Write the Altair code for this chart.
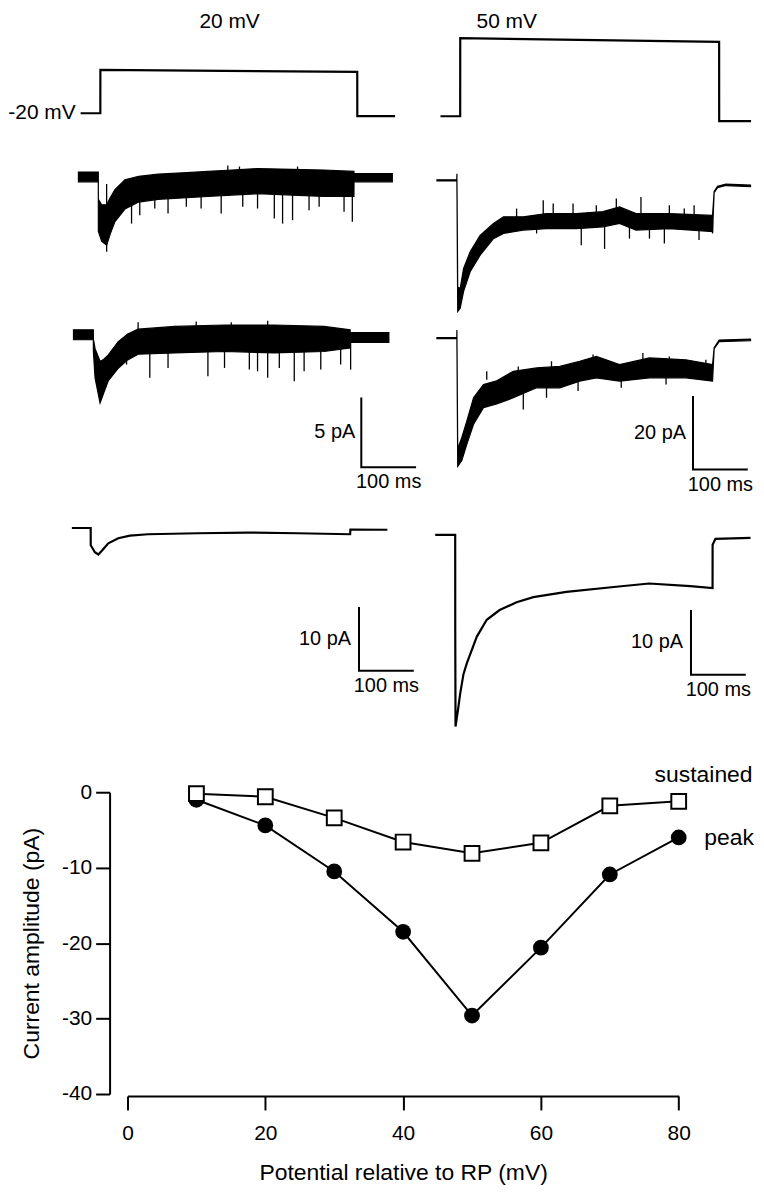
import altair as alt
import pandas as pd

FONT = "Liberation Sans"

# ---------------- command voltage steps (ms from step onset, mV) ----------------
cmd20_t = [-36, 0, 0.1, 469, 469.1, 538]
cmd20_mv = [-20, -20, 19.6, 17.8, -22.7, -22.7]
cmd50_t = [-36, 0, 0.1, 472.7, 472.8, 531]
cmd50_mv = [-20, -20, 51.2, 47.8, -24.5, -24.5]

# ---------------- 20 mV, trace 1 (pA): noise envelope + single-channel spikes ----------------
a1_t = [-40, -3.7, -3.6, 2.4, 11.5, 18, 26.7, 44.9, 70, 105.5, 150, 196, 240, 287, 350, 408.5, 463, 463.1, 533]
a1_hi = [0.35, 0.35, -1.6, -2.0, -2.0, -1.5, -0.9, -0.2, 0.05, 0.2, 0.3, 0.4, 0.5, 0.6, 0.55, 0.5, 0.4, 0.25, 0.25]
a1_lo = [-0.35, -0.35, -3.9, -4.6, -4.9, -4.1, -3.2, -2.3, -1.8, -1.6, -1.5, -1.4, -1.3, -1.2, -1.3, -1.4, -1.4, -0.35, -0.35]
a1_spk_t = [11.5, 57, 72, 99.4, 123.6, 157, 184, 220.6, 260, 287, 317.6, 332.7, 350.9, 381, 399.4, 444.9, 460, 232.7, 254, 360]
a1_spk_i = [-5.36, -3.34, -2.74, -2.26, -2.62, -2.14, -2.26, -2.62, -2.14, -2.26, -2.98, -3.34, -3.1, -2.38, -2.14, -2.5, -3.21, 0.83, 0.75, 0.75]

# ---------------- 20 mV, trace 2 (pA) ----------------
a2_t = [-49, -12.8, -12.7, -9.6, -0.5, 5, 14.5, 32.7, 50, 69, 135.8, 226.7, 317.6, 408.5, 456, 456.1, 526.7]
a2_hi = [0.36, 0.36, -0.3, -1.0, -1.9, -1.8, -1.45, -0.5, 0.05, 0.4, 0.6, 0.7, 0.7, 0.6, 0.35, 0.15, 0.15]
a2_lo = [-0.36, -0.36, -1.2, -3.1, -4.9, -4.3, -3.3, -2.4, -1.8, -1.4, -1.3, -1.2, -1.3, -1.2, -0.95, -0.55, -0.55]
a2_spk_t = [47.9, 90.3, 123.6, 196.4, 226.7, 272, 287, 305.5, 326.7, 354, 372, 402.4, 438.7, 456.9, 69, 175, 239, 305.5]
a2_spk_i = [-2.14, -3.09, -2.38, -2.97, -2.38, -2.5, -2.62, -3.09, -2.38, -3.33, -2.62, -2.5, -2.14, -2.5, 0.9, 0.95, 0.9, 1.0]

# ---------------- 20 mV, averaged trace (pA) ----------------
a3_t = [-52, -17.6, -17.5, -10, -3.6, 3.6, 14.5, 32.7, 54, 87, 178, 269, 360, 456, 456.5, 524]
a3_i = [0, 0, -2.7, -3.8, -4.16, -3.5, -2.4, -1.6, -1.19, -0.98, -0.83, -0.72, -0.83, -0.98, -0.25, -0.28]

# ---------------- 50 mV, trace 1 (pA) ----------------
b1_t = [-42.4, -6.2, -6.0, -4.5, 0, 6.2, 18.2, 36.4, 60.7, 79, 115, 157.6, 212, 260.7, 291, 321, 381.8,
        460.7, 463.6, 469.8, 485, 530]
b1_hi = [0.15, 0.15, 1.8, -29.0, -29.3, -23.9, -19.4, -14.9, -11.7, -9.9, -9.9, -9.0, -9.0, -8.5, -7.2, -9.0, -9.0,
         -9.5, -3.0, -1.6, -1.0, -1.3]
b1_lo = [-0.15, -0.15, -0.15, -35.6, -34.7, -30.1, -24.8, -20.3, -15.8, -14.4, -13.5, -13.1, -13.1, -12.6, -11.7,
         -13.5, -13.1, -13.9, -3.3, -2.0, -1.4, -1.7]
b1_spk_t = [103, 151.6, 169.8, 206, 248.5, 285, 330, 381.8, 409, 427,
            139.5, 221, 263.6, 309, 345.5, 372.7, 436, 460.7]
b1_spk_i = [-7.65, -5.4, -6.3, -6.3, -6.75, -4.95, -4.5, -6.75, -7.65, -6.75,
            -14.4, -17.6, -18.6, -15.8, -15.8, -17.1, -16.2, -14.4]

# ---------------- 50 mV, trace 2 (pA) ----------------
b2_t = [-42.4, -6.2, -6.0, -4.5, 3, 12.2, 24.4, 42.5, 66.7, 97, 139.5, 181.8, 218, 248.5, 291, 345.5, 412,
        460.7, 463.6, 472.7, 530]
b2_hi = [0.15, 0.15, 2.2, -30.0, -27.0, -22.5, -16.2, -12.6, -11.6, -9.0, -8.1, -7.7, -6.3, -5.0, -7.2, -5.4, -5.9,
         -7.2, -2.6, -0.55, -0.3]
b2_lo = [-0.15, -0.15, -0.15, -34.8, -33.2, -28.8, -23.4, -18.9, -17.9, -16.2, -13.5, -13.5, -11.7, -10.8, -11.7,
         -10.8, -10.8, -11.7, -2.9, -0.95, -0.7]
b2_spk_t = [115.2, 157.6, 215.2, 294, 375.8, 48.5, 106, 166.7, 242.5, 333.5, 381.8, 448.5]
b2_spk_i = [-19.4, -16.2, -14.4, -13.5, -12.6, -11.3, -7.7, -6.3, -4.5, -4.05, -5.0, -5.9]

# ---------------- 50 mV, averaged trace (pA) ----------------
b3_t = [-45.6, -9.1, -9.0, -8.5, -4, 0, 6, 12.2, 30.4, 48.5, 72, 103, 133.5, 194, 285, 345, 420, 460.7, 460.8, 466, 530]
b3_i = [0, 0, -15, -29.6, -27, -24.5, -21.5, -19.8, -15.7, -13.1, -11.6, -10.4, -9.6, -8.8, -8.0, -7.5, -7.9, -8.2, -1.5, -0.6, -0.46]

# ---------------- scale bars ----------------
bar_ms = 100
bar_pa = [5, 10, 20, 10]
bar_labels = ["5 pA", "10 pA", "20 pA", "10 pA"]

# ---------------- I-V plot ----------------
potential = [10, 20, 30, 40, 50, 60, 70, 80]
sustained = [-0.2, -0.6, -3.4, -6.6, -8.1, -6.7, -1.8, -1.2]
peak = [-1.0, -4.4, -10.5, -18.5, -29.6, -20.6, -10.9, -6.0]

# ================= layout helpers =================
PX_MS = 0.55            # 100 ms = 55 px
ORIGIN_X = 129.3        # page x shared by both plot origins
TOP_Y0 = 12             # design page y of the top panel's upper edge
W_TOP, H_TOP = 756 - ORIGIN_X, 756


def x_scale(onset_px):
    rel = onset_px - ORIGIN_X
    return alt.Scale(domain=[-rel / PX_MS, (W_TOP - rel) / PX_MS], nice=False, zero=False)


def y_scale(ref_px, ref_val, px_per_unit):
    rel = ref_px - TOP_Y0
    return alt.Scale(domain=[ref_val - (H_TOP - rel) / px_per_unit,
                             ref_val + rel / px_per_unit], nice=False, zero=False)


def enc_x(xs):
    return alt.X("t:Q", scale=xs, axis=None)


def enc_y(field, ys):
    return alt.Y(field, scale=ys, axis=None)


def trace_line(t, v, xs, ys, sw=2.0):
    df = pd.DataFrame({"t": t, "v": v, "k": list(range(len(t)))})
    return alt.Chart(df).mark_line(color="black", strokeWidth=sw).encode(
        x=enc_x(xs), y=enc_y("v:Q", ys), order="k:Q")


def band(t, hi, lo, xs, ys):
    df = pd.DataFrame({"t": t, "hi": hi, "lo": lo})
    return alt.Chart(df).mark_area(color="black", stroke="black", strokeWidth=1.2).encode(
        x=enc_x(xs), y=enc_y("hi:Q", ys), y2="lo:Q")


def spikes(t, tip, base, xs, ys):
    df = pd.DataFrame({"t": t, "tip": tip})
    return alt.Chart(df).mark_rule(color="black", strokeWidth=1.3).encode(
        x=enc_x(xs), y=enc_y("tip:Q", ys), y2=alt.datum(base))


def label(text, t, v, xs, ys, size=20, align="center", baseline="middle", dx=0, dy=0):
    df = pd.DataFrame({"t": [t], "v": [v], "s": [text]})
    return alt.Chart(df).mark_text(font=FONT, fontSize=size, align=align, baseline=baseline,
                                   dx=dx, dy=dy, color="black").encode(
        x=enc_x(xs), y=enc_y("v:Q", ys), text="s:N")


def scale_bar(t0, v0, pa, text, xs, ys, text_dx):
    df = pd.DataFrame({"t": [t0, t0, t0 + bar_ms], "v": [v0, v0 - pa, v0 - pa], "k": [0, 1, 2]})
    bar = alt.Chart(df).mark_line(color="black", strokeWidth=2).encode(
        x=enc_x(xs), y=enc_y("v:Q", ys), order="k:Q")
    return alt.layer(
        bar,
        label(text, t0, v0 - pa / 2, xs, ys, align="right", dx=text_dx),
        label("100 ms", t0 + bar_ms / 2, v0 - pa, xs, ys, baseline="top", dy=5),
    )


XL = x_scale(102)
XR = x_scale(463.3)

# ---- left column (20 mV) ----
yVL = y_scale(114.3, -20, 1.1)
panel_vl = alt.layer(
    trace_line(cmd20_t, cmd20_mv, XL, yVL, 2.2),
    label("20 mV", 236, -20 + (114.3 - 23) / 1.1, XL, yVL, size=21),
    label("-20 mV", -45, -20, XL, yVL, size=21, align="right"),
)
yL1 = y_scale(178.3, 0, 14)
panel_l1 = alt.layer(band(a1_t, a1_hi, a1_lo, XL, yL1), spikes(a1_spk_t, a1_spk_i, -0.5, XL, yL1))
yL2 = y_scale(336.7, 0, 14)
panel_l2 = alt.layer(band(a2_t, a2_hi, a2_lo, XL, yL2), spikes(a2_spk_t, a2_spk_i, -0.3, XL, yL2),
                     scale_bar(476.4, -4.5, bar_pa[0], bar_labels[0], XL, yL2, -6))
yL3 = y_scale(530.7, 0, 6.4)
panel_l3 = alt.layer(trace_line(a3_t, a3_i, XL, yL3, 2.2),
                     scale_bar(472.2, -12.4, bar_pa[1], bar_labels[1], XL, yL3, -8))
left = alt.layer(panel_vl, panel_l1, panel_l2, panel_l3).resolve_scale(y="independent")

# ---- right column (50 mV) ----
yVR = y_scale(117.3, -20, 1.1)
panel_vr = alt.layer(
    trace_line(cmd50_t, cmd50_mv, XR, yVR, 2.2),
    label("50 mV", 85, -20 + (117.3 - 23) / 1.1, XR, yVR, size=21),
)
yR1 = y_scale(181.7, 0, 3.7)
panel_r1 = alt.layer(band(b1_t, b1_hi, b1_lo, XR, yR1), spikes(b1_spk_t, b1_spk_i, -11, XR, yR1))
yR2 = y_scale(340, 0, 3.7)
panel_r2 = alt.layer(band(b2_t, b2_hi, b2_lo, XR, yR2), spikes(b2_spk_t, b2_spk_i, -9, XR, yR2),
                     scale_bar(425, -15.7, bar_pa[2], bar_labels[2], XR, yR2, -7))
yR3 = y_scale(537.7, 0, 6.5)
panel_r3 = alt.layer(trace_line(b3_t, b3_i, XR, yR3, 2.2),
                     scale_bar(421.3, -11.6, bar_pa[3], bar_labels[3], XR, yR3, -8))
right = alt.layer(panel_vr, panel_r1, panel_r2, panel_r3).resolve_scale(y="independent")

top = alt.layer(left, right).resolve_scale(x="independent", y="independent").properties(
    width=W_TOP, height=H_TOP)

# ================= I-V plot =================
x_axis = alt.Axis(values=[0, 20, 40, 60, 80], title="Potential relative to RP (mV)", grid=False,
                  offset=2, tickSize=14, tickWidth=2, domainWidth=2, domainColor="black",
                  tickColor="black", labelColor="black", titleColor="black", labelFont=FONT,
                  titleFont=FONT, labelFontSize=21, titleFontSize=23, titleFontWeight="normal",
                  labelPadding=13, titlePadding=18, labelFlush=False, labelOverlap=False)
y_axis = alt.Axis(values=[-40, -30, -20, -10, 0], title="Current amplitude (pA)", grid=False,
                  offset=18, tickSize=14, tickWidth=2, domainWidth=2, domainColor="black",
                  tickColor="black", labelColor="black", titleColor="black", labelFont=FONT,
                  titleFont=FONT, labelFontSize=21, titleFontSize=23, titleFontWeight="normal",
                  labelPadding=4, titlePadding=18, labelFlush=False, labelOverlap=False,
                  labelExpr="'' + datum.value")

bx = alt.X("pot:Q", scale=alt.Scale(domain=[0, 80], nice=False, zero=False), axis=x_axis)
by = alt.Y("amp:Q", scale=alt.Scale(domain=[-40, 0], nice=False, zero=False), axis=y_axis)

df_s = pd.DataFrame({"pot": potential, "amp": sustained})
df_p = pd.DataFrame({"pot": potential, "amp": peak})
df_lab = pd.DataFrame({"pot": [76.5, 83.7], "amp": [2.24, -6.07], "s": ["sustained", "peak"]})

line_s = alt.Chart(df_s).mark_line(color="black", strokeWidth=2).encode(x=bx, y=by)
line_p = alt.Chart(df_p).mark_line(color="black", strokeWidth=2).encode(x=bx, y=by)
pts_p = alt.Chart(df_p).mark_circle(color="black", size=250, opacity=1).encode(x=bx, y=by)
pts_s = alt.Chart(df_s).mark_point(shape="square", filled=True, fill="white", stroke="black",
                                   strokeWidth=2, size=220, opacity=1).encode(x=bx, y=by)
labs = alt.Chart(df_lab).mark_text(font=FONT, fontSize=23, align="left", baseline="middle",
                                   color="black").encode(x=bx, y=by, text="s:N")

bottom = alt.layer(line_s, line_p, pts_p, pts_s, labs).properties(width=553.4, height=303)

chart = alt.vconcat(top, bottom, spacing=0).properties(padding=0).configure_view(stroke=None)

chart.save("out.html", embed_options={"renderer": "svg", "actions": False})
